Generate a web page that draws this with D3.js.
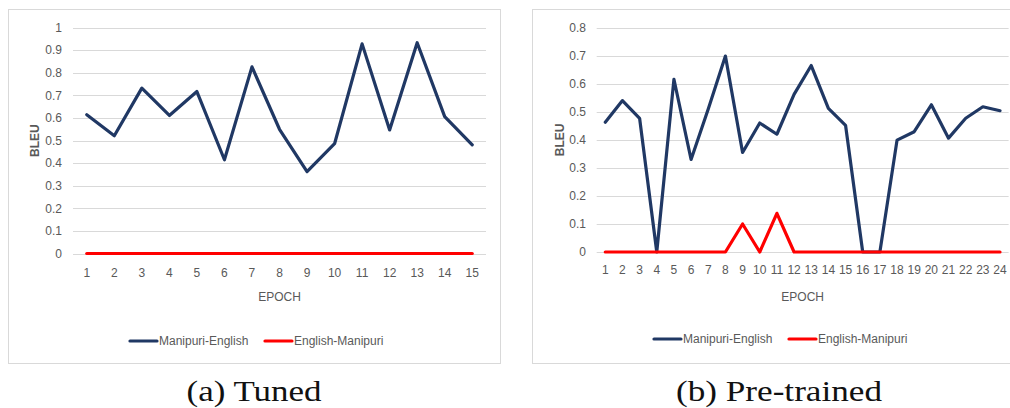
<!DOCTYPE html>
<html>
<head>
<meta charset="utf-8">
<script src="https://cdn.jsdelivr.net/npm/d3@7/dist/d3.min.js"></script>
<style>
  html, body { margin: 0; padding: 0; background: #fff; }
  svg { display: block; }
  .tick-label { font-family: "Liberation Sans", Arial, sans-serif; font-size: 12px; fill: #595959; }
  .axis-title { font-family: "Liberation Sans", Arial, sans-serif; font-size: 12px; fill: #595959; }
  .legend-label { font-family: "Liberation Sans", Arial, sans-serif; font-size: 12px; fill: #595959; }
  .caption { font-family: "Liberation Serif", serif; font-size: 30px; fill: #111; }
</style>
</head>
<body>
<svg id="chart" width="1010" height="408"></svg>
<script>
// ---- data ----
const seriesNames = ["Manipuri-English", "English-Manipuri"];
const seriesColors = ["#203864", "#ff0000"];

// (a) Tuned
const tunedEpochs = d3.range(1, 16);
const tunedManEng = [0.614, 0.521, 0.732, 0.611, 0.717, 0.415, 0.826, 0.55, 0.362, 0.486, 0.928, 0.547, 0.933, 0.606, 0.481];
const tunedEngMan = [0, 0, 0, 0, 0, 0, 0, 0, 0, 0, 0, 0, 0, 0, 0];
const tunedYTicks = [0, 0.1, 0.2, 0.3, 0.4, 0.5, 0.6, 0.7, 0.8, 0.9, 1];

// (b) Pre-trained
const pretrainedEpochs = d3.range(1, 25);
const pretrainedManEng = [0.463, 0.54, 0.477, 0, 0.616, 0.33, 0.51, 0.699, 0.355, 0.46, 0.42, 0.562, 0.665, 0.512, 0.452, 0, 0, 0.399, 0.429, 0.525, 0.406, 0.477, 0.518, 0.504];
const pretrainedEngMan = [0, 0, 0, 0, 0, 0, 0, 0, 0.1, 0, 0.138, 0, 0, 0, 0, 0, 0, 0, 0, 0, 0, 0, 0, 0];
const pretrainedYTicks = [0, 0.1, 0.2, 0.3, 0.4, 0.5, 0.6, 0.7, 0.8];

const svg = d3.select("#chart");

function drawPanel(cfg) {
  const g = svg.append("g");

  // chart frame
  g.append("rect")
    .attr("x", cfg.box[0] + 0.5).attr("y", cfg.box[1] + 0.5)
    .attr("width", cfg.box[2]).attr("height", cfg.box[3])
    .attr("fill", "#fff").attr("stroke", "#d9d9d9").attr("stroke-width", 1);

  const x = d3.scalePoint().domain(cfg.epochs).range(cfg.xRange).padding(0.5);
  const y = d3.scaleLinear().domain([0, d3.max(cfg.yTicks)]).range(cfg.yRange);

  // horizontal gridlines
  g.append("g").selectAll("line").data(cfg.yTicks).join("line")
    .attr("x1", cfg.xRange[0]).attr("x2", cfg.xRange[1])
    .attr("y1", d => Math.round(y(d)) + 0.5).attr("y2", d => Math.round(y(d)) + 0.5)
    .attr("stroke", "#d9d9d9").attr("stroke-width", 1);

  // y tick labels
  g.append("g").selectAll("text").data(cfg.yTicks).join("text")
    .attr("class", "tick-label")
    .attr("x", cfg.yLabelX).attr("y", d => y(d))
    .attr("dy", "0.35em").attr("text-anchor", "end")
    .text(d => String(d));

  // x tick labels
  g.append("g").selectAll("text").data(cfg.epochs).join("text")
    .attr("class", "tick-label")
    .attr("x", d => x(d)).attr("y", cfg.xLabelY)
    .attr("dy", "0.35em").attr("text-anchor", "middle")
    .text(d => d);

  // axis titles
  g.append("text").attr("class", "axis-title")
    .attr("x", (cfg.xRange[0] + cfg.xRange[1]) / 2).attr("y", cfg.xTitleY)
    .attr("dy", "0.35em").attr("text-anchor", "middle")
    .text("EPOCH");
  g.append("text").attr("class", "axis-title")
    .attr("transform", `translate(${cfg.yTitleX},${(cfg.yRange[0] + cfg.yRange[1]) / 2}) rotate(-90)`)
    .attr("dy", "0.35em").attr("text-anchor", "middle")
    .attr("font-weight", "bold")
    .text("BLEU");

  // series lines (English-Manipuri drawn on top)
  const line = d3.line().x((d, i) => x(cfg.epochs[i])).y(d => y(d));
  cfg.series.forEach((vals, si) => {
    g.append("path").datum(vals)
      .attr("d", line)
      .attr("fill", "none")
      .attr("stroke", seriesColors[si])
      .attr("stroke-width", 3.2)
      .attr("stroke-linejoin", "round")
      .attr("stroke-linecap", "round");
  });

  // legend
  const lg = g.append("g");
  seriesNames.forEach((name, si) => {
    const lx = cfg.legendX[si];
    lg.append("line")
      .attr("x1", lx).attr("x2", lx + 27)
      .attr("y1", cfg.legendY).attr("y2", cfg.legendY)
      .attr("stroke", seriesColors[si]).attr("stroke-width", 3.2)
      .attr("stroke-linecap", "round");
    lg.append("text").attr("class", "legend-label")
      .attr("x", lx + 29).attr("y", cfg.legendY)
      .attr("dy", "0.35em")
      .text(name);
  });

  // caption
  g.append("text").attr("class", "caption")
    .attr("x", cfg.captionX).attr("y", 401)
    .attr("text-anchor", "middle")
    .attr("textLength", cfg.captionLen).attr("lengthAdjust", "spacingAndGlyphs")
    .text(cfg.caption);
}

drawPanel({
  box: [8, 9, 492, 354],
  epochs: tunedEpochs,
  yTicks: tunedYTicks,
  series: [tunedManEng, tunedEngMan],
  xRange: [73, 486],
  yRange: [253.5, 27.6],
  yLabelX: 62,
  yTitleX: 35,
  xLabelY: 273,
  xTitleY: 297,
  legendX: [130, 265],
  legendY: 341,
  caption: "(a) Tuned",
  captionX: 254,
  captionLen: 135
});

drawPanel({
  box: [532, 9, 500, 354],
  epochs: pretrainedEpochs,
  yTicks: pretrainedYTicks,
  series: [pretrainedManEng, pretrainedEngMan],
  xRange: [596.7, 1008.6],
  yRange: [252, 27.7],
  yLabelX: 586,
  yTitleX: 560,
  xLabelY: 270,
  xTitleY: 296.5,
  legendX: [654, 789],
  legendY: 339,
  caption: "(b) Pre-trained",
  captionX: 779,
  captionLen: 206
});
</script>
</body>
</html>
